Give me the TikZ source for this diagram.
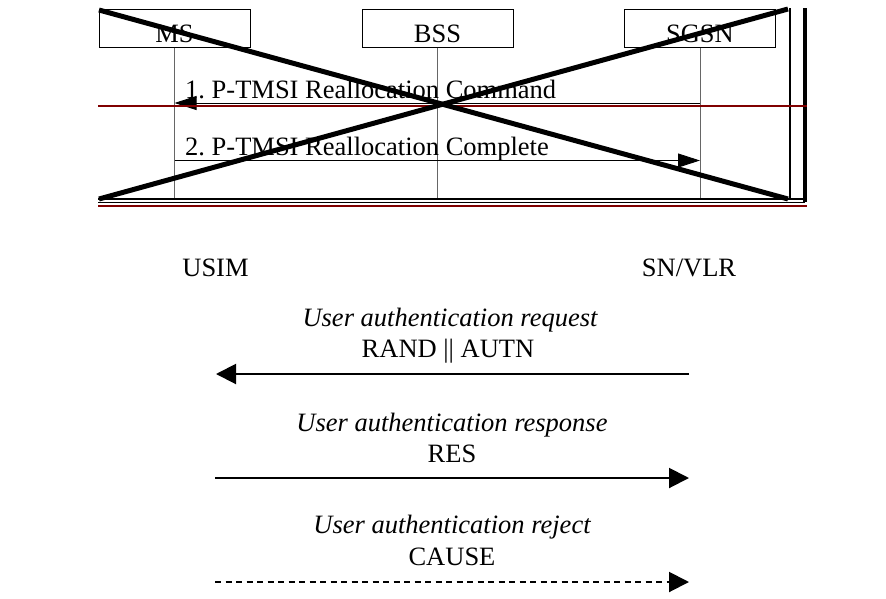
\documentclass[tikz,border=0pt]{standalone}
\usepackage{fontspec}
\setmainfont{Liberation Serif}
\usetikzlibrary{arrows.meta}
\definecolor{rulered}{RGB}{128,0,0}
\tikzset{
  entity/.style={draw, line width=1pt, minimum width=151pt, inner xsep=0pt, inner ysep=0pt,
    text height=33pt, text depth=5pt, anchor=base},
  lifeline/.style={draw=black!60, line width=0.9pt},
  msgtop/.style={line width=0.9pt, -{Triangle[length=22pt,width=14pt]}},
  msg/.style={line width=2pt, -{Triangle[length=20pt,width=20pt]}},
  lbl/.style={inner sep=0pt, anchor=base},
  cross/.style={line width=5pt},
}
\begin{document}
\frenchspacing
\begin{tikzpicture}[x=1pt,y=-1pt,font=\fontsize{26.5}{31}\selectfont]
  \useasboundingbox (0,0) rectangle (886,598);
  % crossed-out reallocation procedure
  \node[entity] (ms) at (174.5,42) {MS};
  \node[entity] (bss) at (437.5,42) {BSS};
  \node[entity] (sgsn) at (700,42) {SGSN};
  \coordinate (msend) at (174.5,198);
  \coordinate (bssend) at (437.5,198);
  \coordinate (sgsnend) at (700,198);
  \draw[lifeline] (ms.south) -- (msend);
  \draw[lifeline] (bss.south) -- (bssend);
  \draw[lifeline] (sgsn.south) -- (sgsnend);
  \coordinate (m1) at (174.5,103);
  \coordinate (s1) at (700,103);
  \coordinate (m2) at (174.5,160.5);
  \coordinate (s2) at (700,160.5);
  \draw[msgtop] (s1) -- (m1);
  \draw[msgtop] (m2) -- (s2);
  \node[lbl, anchor=base west] at (185,98) {1. P-TMSI Reallocation Command};
  \node[lbl, anchor=base west] at (185,155) {2. P-TMSI Reallocation Complete};
  \draw[line width=2pt] (790,8) -- (790,200);
  \draw[line width=4pt] (805,8) -- (805,202);
  \draw[line width=2pt] (98,199) -- (805,199);
  \draw[line width=1.5pt] (98,202.5) -- (805,202.5);
  \draw[rulered, line width=1.6pt] (98,106) -- (807,106);
  \draw[rulered, line width=2pt] (98,206) -- (807,206);
  \draw[cross] (99,10) -- (788,199);
  \draw[cross] (99,199) -- (788,9);
  % authentication
  \node[lbl] (usim) at (215.5,276) {USIM};
  \node[lbl] (vlr) at (689,276) {SN/VLR};
  \coordinate (u1) at (216,374);
  \coordinate (v1) at (689,374);
  \coordinate (u2) at (215,478);
  \coordinate (v2) at (689,478);
  \coordinate (u3) at (215,582);
  \coordinate (v3) at (689,582);
  \node[lbl] at (450,326) {\itshape User authentication request};
  \node[lbl] at (448,357) {RAND || AUTN};
  \draw[msg] (v1) -- (u1);
  \node[lbl] at (452,431) {\itshape User authentication response};
  \node[lbl] at (452,462) {RES};
  \draw[msg] (u2) -- (v2);
  \node[lbl] at (452,533) {\itshape User authentication reject};
  \node[lbl] at (452,565) {CAUSE};
  \draw[msg, dash pattern=on 6pt off 4.5pt] (u3) -- (v3);
\end{tikzpicture}
\end{document}
